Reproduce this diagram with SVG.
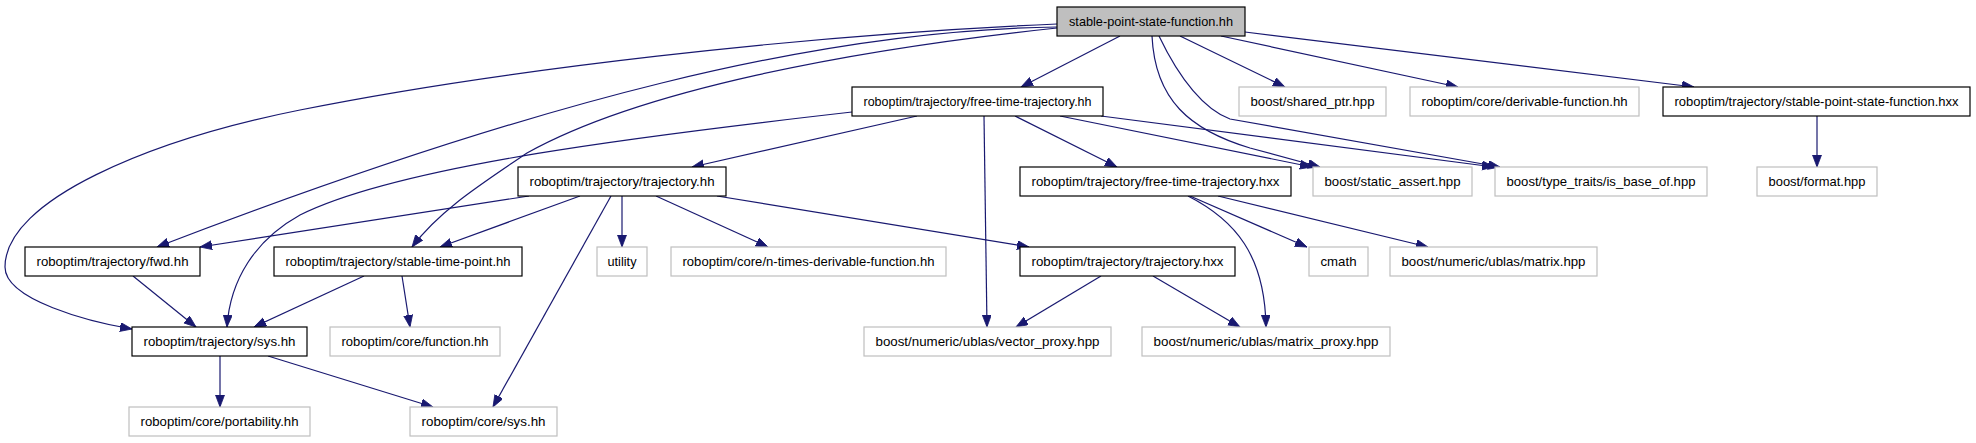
<svg xmlns="http://www.w3.org/2000/svg" width="1976" height="443" viewBox="0 0 1976 443">
<style>
.n rect{fill:#fff;stroke:#000;stroke-width:1.2}
.n.g rect{stroke:#bfbfbf}
.n.r rect{fill:#bfbfbf}
.n text{font-family:"Liberation Sans",Arial,sans-serif;font-size:13px;fill:#000;text-anchor:middle}
#edges path{fill:none;stroke:#191970;stroke-width:1.2;marker-end:url(#ah)}
</style>
<defs>
<marker id="ah" markerUnits="userSpaceOnUse" markerWidth="13" markerHeight="10" refX="12" refY="4.5" orient="auto">
<path d="M0,0 L12,4.5 L0,9 z" fill="#191970" stroke="#191970" stroke-width="0.8"/>
</marker>
</defs>
<rect width="1976" height="443" fill="#fff"/>
<g id="edges">
<path d="M1120,36 L1021,87"/>
<path d="M1180,36 L1285,87"/>
<path d="M1221,36 L1458,87"/>
<path d="M1245,32 L1694,87"/>
<path d="M1152,36 C1155,100 1190,130 1250,148 L1320,167"/>
<path d="M1159,36 C1180,80 1205,110 1230,119 L1500,167"/>
<path d="M1057,27 C820,30 540,100 157,247"/>
<path d="M1057,24 C800,35 500,70 300,110 C150,140 5,200 5,267 C5,300 90,322 132,329"/>
<path d="M1057,28 C850,50 640,90 527,153 C480,185 440,210 412,247"/>
<path d="M852,112 C650,135 400,165 300,215 C255,240 230,280 227,327"/>
<path d="M917,116 L692,167"/>
<path d="M984,116 L987,327"/>
<path d="M1015,116 L1117,167"/>
<path d="M1060,116 L1312,167"/>
<path d="M1101,116 L1494,167"/>
<path d="M529,196 L200,247"/>
<path d="M580,196 L440,247"/>
<path d="M611,196 L493,407"/>
<path d="M622,196 L622,247"/>
<path d="M656,196 L768,247"/>
<path d="M717,196 L1029,247"/>
<path d="M1190,196 L1307,247"/>
<path d="M1188,196 C1235,220 1265,255 1266,327"/>
<path d="M1218,196 L1428,247"/>
<path d="M1101,276 L1016,327"/>
<path d="M1153,276 L1240,327"/>
<path d="M133,276 L196,327"/>
<path d="M364,276 L254,327"/>
<path d="M402,276 L410,327"/>
<path d="M220,356 L220,407"/>
<path d="M268,356 L433,407"/>
<path d="M1817,116 L1817,167"/>
</g>
<g id="n0" class="n r"><rect x="1057" y="7" width="188" height="29"/><text x="1151" y="26" textLength="164" lengthAdjust="spacingAndGlyphs">stable-point-state-function.hh</text></g>
<g id="n1" class="n"><rect x="852" y="87" width="251" height="29"/><text x="977.5" y="106" textLength="228" lengthAdjust="spacingAndGlyphs">roboptim/trajectory/free-time-trajectory.hh</text></g>
<g id="n2" class="n g"><rect x="1239" y="87" width="147" height="29"/><text x="1312.5" y="106" textLength="124" lengthAdjust="spacingAndGlyphs">boost/shared_ptr.hpp</text></g>
<g id="n3" class="n g"><rect x="1410" y="87" width="229" height="29"/><text x="1524.5" y="106" textLength="206" lengthAdjust="spacingAndGlyphs">roboptim/core/derivable-function.hh</text></g>
<g id="n4" class="n"><rect x="1663" y="87" width="307" height="29"/><text x="1816.5" y="106" textLength="284" lengthAdjust="spacingAndGlyphs">roboptim/trajectory/stable-point-state-function.hxx</text></g>
<g id="n5" class="n"><rect x="518" y="167" width="208" height="29"/><text x="622" y="186" textLength="185" lengthAdjust="spacingAndGlyphs">roboptim/trajectory/trajectory.hh</text></g>
<g id="n6" class="n"><rect x="1020" y="167" width="271" height="29"/><text x="1155.5" y="186" textLength="248" lengthAdjust="spacingAndGlyphs">roboptim/trajectory/free-time-trajectory.hxx</text></g>
<g id="n7" class="n g"><rect x="1313" y="167" width="159" height="29"/><text x="1392.5" y="186" textLength="136" lengthAdjust="spacingAndGlyphs">boost/static_assert.hpp</text></g>
<g id="n8" class="n g"><rect x="1495" y="167" width="212" height="29"/><text x="1601" y="186" textLength="189" lengthAdjust="spacingAndGlyphs">boost/type_traits/is_base_of.hpp</text></g>
<g id="n9" class="n g"><rect x="1757" y="167" width="120" height="29"/><text x="1817" y="186" textLength="97" lengthAdjust="spacingAndGlyphs">boost/format.hpp</text></g>
<g id="n10" class="n"><rect x="25" y="247" width="175" height="29"/><text x="112.5" y="266" textLength="152" lengthAdjust="spacingAndGlyphs">roboptim/trajectory/fwd.hh</text></g>
<g id="n11" class="n"><rect x="274" y="247" width="248" height="29"/><text x="398" y="266" textLength="225" lengthAdjust="spacingAndGlyphs">roboptim/trajectory/stable-time-point.hh</text></g>
<g id="n12" class="n g"><rect x="597" y="247" width="50" height="29"/><text x="622" y="266" textLength="29" lengthAdjust="spacingAndGlyphs">utility</text></g>
<g id="n13" class="n g"><rect x="671" y="247" width="275" height="29"/><text x="808.5" y="266" textLength="252" lengthAdjust="spacingAndGlyphs">roboptim/core/n-times-derivable-function.hh</text></g>
<g id="n14" class="n"><rect x="1020" y="247" width="215" height="29"/><text x="1127.5" y="266" textLength="192" lengthAdjust="spacingAndGlyphs">roboptim/trajectory/trajectory.hxx</text></g>
<g id="n15" class="n g"><rect x="1309" y="247" width="59" height="29"/><text x="1338.5" y="266" textLength="36" lengthAdjust="spacingAndGlyphs">cmath</text></g>
<g id="n16" class="n g"><rect x="1390" y="247" width="207" height="29"/><text x="1493.5" y="266" textLength="184" lengthAdjust="spacingAndGlyphs">boost/numeric/ublas/matrix.hpp</text></g>
<g id="n17" class="n"><rect x="132" y="327" width="175" height="29"/><text x="219.5" y="346" textLength="152" lengthAdjust="spacingAndGlyphs">roboptim/trajectory/sys.hh</text></g>
<g id="n18" class="n g"><rect x="330" y="327" width="170" height="29"/><text x="415" y="346" textLength="147" lengthAdjust="spacingAndGlyphs">roboptim/core/function.hh</text></g>
<g id="n19" class="n g"><rect x="864" y="327" width="247" height="29"/><text x="987.5" y="346" textLength="224" lengthAdjust="spacingAndGlyphs">boost/numeric/ublas/vector_proxy.hpp</text></g>
<g id="n20" class="n g"><rect x="1142" y="327" width="248" height="29"/><text x="1266" y="346" textLength="225" lengthAdjust="spacingAndGlyphs">boost/numeric/ublas/matrix_proxy.hpp</text></g>
<g id="n21" class="n g"><rect x="129" y="407" width="181" height="29"/><text x="219.5" y="426" textLength="158" lengthAdjust="spacingAndGlyphs">roboptim/core/portability.hh</text></g>
<g id="n22" class="n g"><rect x="410" y="407" width="147" height="29"/><text x="483.5" y="426" textLength="124" lengthAdjust="spacingAndGlyphs">roboptim/core/sys.hh</text></g>
</svg>
